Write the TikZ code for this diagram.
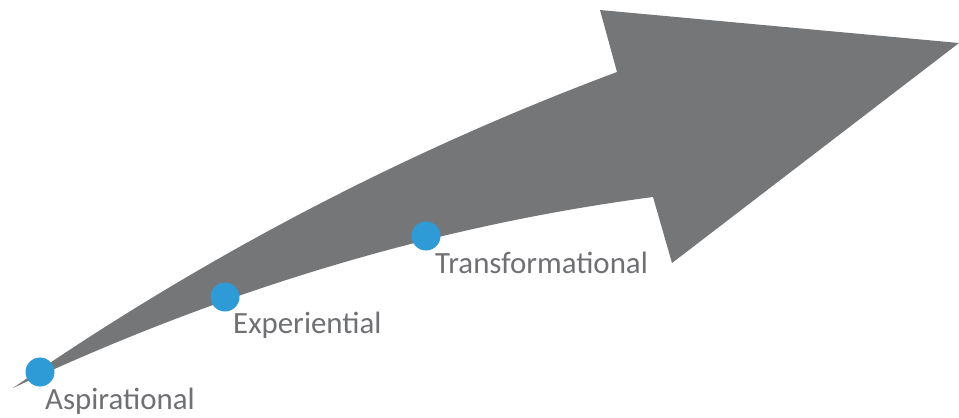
\documentclass[tikz,border=0pt]{standalone}
\usepackage{fontspec}
\setmainfont{Carlito}
\usetikzlibrary{positioning}
\definecolor{arrowgray}{HTML}{757678}
\definecolor{dotblue}{HTML}{2F9BD6}
\definecolor{textgray}{HTML}{6F7073}
\tikzset{
  dot/.style={circle, fill=dotblue, inner sep=0pt, minimum size=29bp},
  stage/.style={anchor=base west, text=textgray, inner sep=0pt,
    font=\fontsize{31}{37}\selectfont}
}

\begin{document}
\begin{tikzpicture}[x=1bp, y=-1bp]
\useasboundingbox (0,0) rectangle (959,417);

\coordinate (T) at (13,388);   % tail
\coordinate (N1) at (617,72);  % upper notch
\coordinate (H1) at (600,10);
\coordinate (H2) at (959,43);  % tip
\coordinate (H3) at (672,263);
\coordinate (N2) at (653,197); % lower notch

% the curved arrow
\fill[arrowgray] (T) .. controls (201,258) and (403,152) .. (N1)
  -- (H1) -- (H2) -- (H3) -- (N2)
  .. controls (440,225) and (226,288) .. (T) -- cycle;

\node[dot] (asp) at (40,372) {};
\node[dot] (exp) at (225,297) {};
\node[dot] (tra) at (426,236) {};

\node[stage] (asplbl) at (45,409) {Aspirational};
\node[stage] (explbl) at (233,333) {Experiential};
\node[stage] (tralbl) at (435,273) {Transformational};
\end{tikzpicture}
\end{document}
